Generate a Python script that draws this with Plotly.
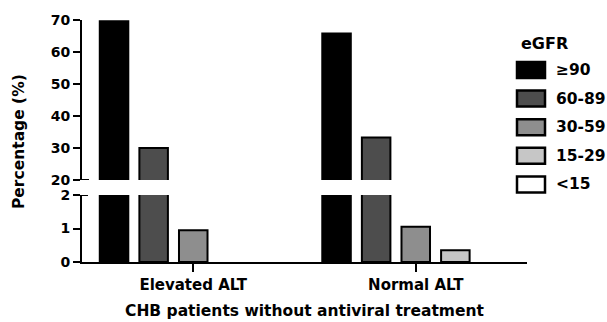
import plotly.graph_objects as go

# ---- data ----
categories = ["Elevated ALT", "Normal ALT"]
egfr_groups = ["≥90", "60-89", "30-59", "15-29", "<15"]
pct_ge90 = [69.6, 65.8]
pct_60_89 = [30.0, 33.3]
pct_30_59 = [0.95, 1.05]
pct_15_29 = [0.0, 0.35]
pct_lt15 = [0.0, 0.0]
series = [pct_ge90, pct_60_89, pct_30_59, pct_15_29, pct_lt15]
lower_ticks = [0, 1, 2]
upper_ticks = [20, 30, 40, 50, 60, 70]

# ---- styling ----
colors = ["#000000", "#4d4d4d", "#8e8e8e", "#c6c6c6", "#ffffff"]
FONT = "DejaVu Sans"
W, H = 607, 322
L, R, T, B = 82, 527, 20, 262


def px(x):
    return (x - L) / (R - L)


def py(y):
    return (B - y) / (B - T)


fig = go.Figure()
for name, vals, col in zip(egfr_groups, series, colors):
    for ya in ["y", "y2"]:
        fig.add_trace(go.Bar(
            x=categories, y=vals, name=name, xaxis="x", yaxis=ya,
            marker=dict(color=col, line=dict(color="black",
                                             width=[2 if v > 0 else 0 for v in vals])),
            showlegend=False, hoverinfo="skip",
        ))

axis_common = dict(
    showline=True, linewidth=2, linecolor="black", showgrid=False, zeroline=False,
    ticks="outside", ticklen=7, tickwidth=2, tickcolor="black",
    tickfont=dict(family=FONT, size=14, color="black", weight="bold"),
)

fig.update_layout(
    width=W, height=H,
    margin=dict(l=L, r=W - R, t=T, b=H - B),
    paper_bgcolor="white", plot_bgcolor="white",
    barmode="group", bargap=0.11, bargroupgap=0.28,
    showlegend=False,
    xaxis=dict(
        domain=[0, 1], range=[-0.5, 1.5], anchor="y",
        showline=True, linewidth=2, linecolor="black", showgrid=False, zeroline=False,
        ticks="outside", ticklen=8, tickwidth=2, tickcolor="black",
        tickfont=dict(family=FONT, size=15, color="black", weight="bold"),
    ),
    yaxis=dict(domain=[0, py(195)], range=[0, 2], tickvals=lower_ticks, anchor="x", **axis_common),
    yaxis2=dict(domain=[py(180), 1], range=[20, 70], tickvals=upper_ticks, anchor="x", **axis_common),
)

shapes = [
    dict(type="line", xref="paper", yref="y2", x0=px(L), x1=px(L + 7), y0=20, y1=20,
         line=dict(color="black", width=2)),
    dict(type="line", xref="paper", yref="y", x0=px(L), x1=px(L + 6), y0=2, y1=2,
         line=dict(color="black", width=2)),
]
annotations = [
    dict(text="<b>Percentage (%)</b>", textangle=-90, x=px(19), y=py(142), xref="paper", yref="paper",
         showarrow=False, xanchor="center", yanchor="middle",
         font=dict(family=FONT, size=15.5, color="black")),
    dict(text="<b>CHB patients without antiviral treatment</b>", x=px(305), y=py(311), xref="paper",
         yref="paper", showarrow=False, xanchor="center", yanchor="middle",
         font=dict(family=FONT, size=15.5, color="black")),
    dict(text="<b>eGFR</b>", x=px(519), y=py(43), xref="paper", yref="paper", showarrow=False,
         xanchor="left", yanchor="middle", font=dict(family=FONT, size=16, color="black")),
]
for i, (name, col) in enumerate(zip(egfr_groups, colors)):
    c = 70 + i * 28.6
    shapes.append(dict(type="rect", xref="paper", yref="paper", x0=px(517), x1=px(545),
                       y0=py(c + 8), y1=py(c - 8), fillcolor=col,
                       line=dict(color="black", width=2.5)))
    annotations.append(dict(text="<b>" + name + "</b>", x=px(554), y=py(c), xref="paper", yref="paper",
                            showarrow=False, xanchor="left", yanchor="middle",
                            font=dict(family=FONT, size=15.5, color="black")))

fig.update_layout(shapes=shapes, annotations=annotations)
fig.write_html("out.html", config={"displayModeBar": False},
               post_script="document.body.style.margin='0';")
